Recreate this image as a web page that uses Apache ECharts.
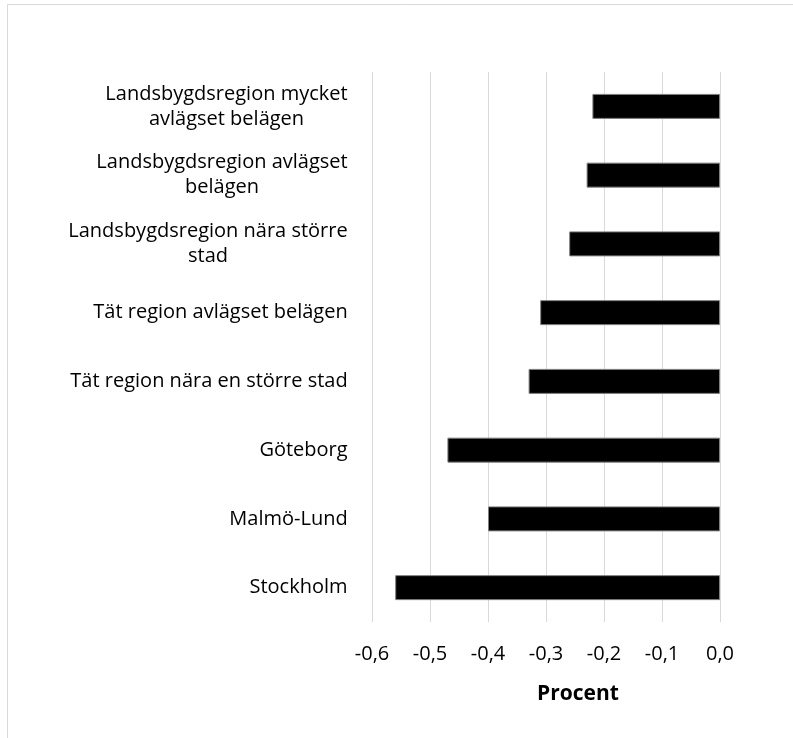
<!DOCTYPE html>
<html>
<head>
<meta charset="utf-8">
<script src="https://cdn.jsdelivr.net/npm/echarts@6/dist/echarts.min.js"></script>
<style>
  html, body { margin: 0; padding: 0; background: #fff; }
  #chart { width: 793px; height: 738px; }
</style>
</head>
<body>
<div id="chart"></div>
<script>
// regioner, uppifrån och ned
const regions = [
  'Landsbygdsregion mycket\navlägset belägen',
  'Landsbygdsregion avlägset\nbelägen',
  'Landsbygdsregion nära större\nstad',
  'Tät region avlägset belägen',
  'Tät region nära en större stad',
  'Göteborg',
  'Malmö-Lund',
  'Stockholm'
]
const values = [-0.22, -0.23, -0.26, -0.31, -0.33, -0.47, -0.40, -0.56]

const fontName = 'Open Sans'
const labelFont = '20px "Open Sans"'

// mät bredaste raden så att tvåradiga etiketter centreras inbördes
const ctx = document.createElement('canvas').getContext('2d')
ctx.font = labelFont
const rich = {}
regions.forEach((name, i) => {
  const w = Math.max(...name.split('\n').map(s => ctx.measureText(s).width))
  rich['w' + i] = {
    width: Math.ceil(w),
    align: 'center',
    fontFamily: fontName,
    fontSize: 20,
    lineHeight: 25,
    color: '#000'
  }
})

const myChart = echarts.init(document.getElementById('chart'))

const option = {
  backgroundColor: '#fff',
  animation: false,
  grid: {
    left: 372,
    right: 73,
    top: 72,
    bottom: 116
  },
  xAxis: {
    type: 'value',
    min: -0.6,
    max: 0,
    interval: 0.1,
    name: 'Procent',
    nameLocation: 'middle',
    nameGap: 62,
    nameTextStyle: {
      fontFamily: fontName,
      fontSize: 21,
      fontWeight: 'bold',
      color: '#000',
      padding: [0, 0, 0, 64]
    },
    axisLine: { show: false },
    axisTick: { show: false },
    axisLabel: {
      margin: 22,
      fontFamily: fontName,
      fontSize: 20,
      color: '#000',
      formatter: v => v.toFixed(1).replace('.', ',')
    },
    splitLine: {
      show: true,
      lineStyle: { color: '#d9d9d9', width: 1 }
    }
  },
  yAxis: {
    type: 'category',
    inverse: true,
    data: regions,
    axisLine: { show: false },
    axisTick: { show: false },
    axisLabel: {
      margin: 24,
      fontFamily: fontName,
      fontSize: 20,
      lineHeight: 25,
      color: '#000',
      formatter: (value, index) =>
        value.split('\n').map(s => `{w${index}|${s}}`).join('\n'),
      rich: rich
    }
  },
  series: [
    {
      type: 'bar',
      data: values,
      barWidth: 25,
      itemStyle: {
        color: '#000',
        borderColor: '#808080',
        borderWidth: 1
      }
    }
  ],
  graphic: [
    {
      type: 'polyline',
      shape: { points: [[7.5, 738], [7.5, 4.5], [793, 4.5]] },
      style: { stroke: '#d9d9d9', lineWidth: 1, fill: null }
    }
  ]
}

myChart.setOption(option)
</script>
</body>
</html>
